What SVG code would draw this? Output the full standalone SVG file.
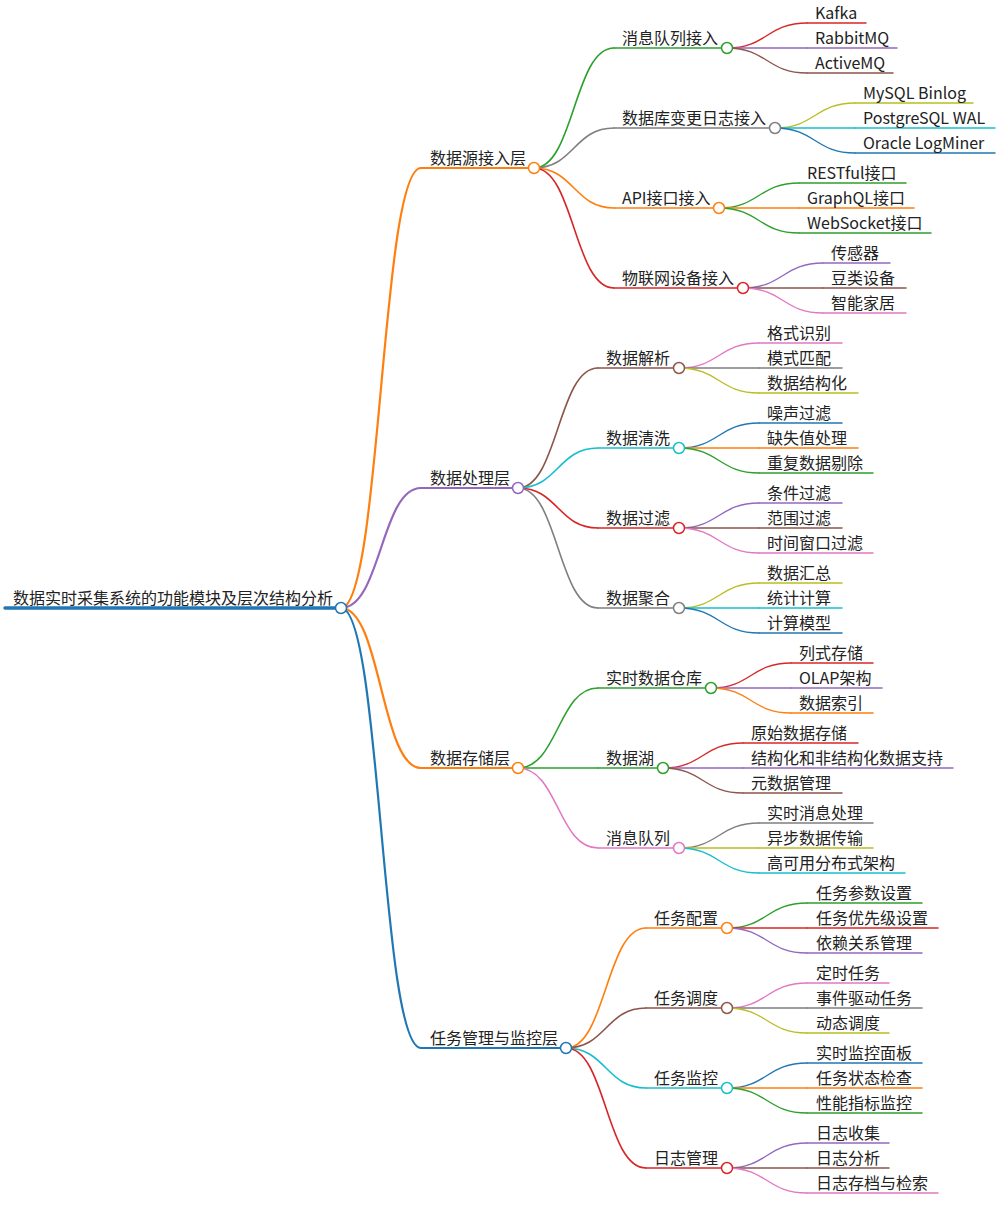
<svg xmlns="http://www.w3.org/2000/svg" width="997" height="1231" viewBox="0 0 997 1231">
<style>
text{font-family:"Noto Sans CJK SC","Noto Sans",sans-serif;font-size:16px;fill:#222}
line,path,circle{fill:none;stroke-linecap:round}
circle{fill:#fff;stroke-width:1.5}
.l0{stroke-width:3.5}.l1{stroke-width:2}.l2{stroke-width:1.5}.l3{stroke-width:1.5}
.k1{stroke-width:2.2}.k2{stroke-width:1.6}.k3{stroke-width:1.4}
.blue{stroke:#1f77b4}.orange{stroke:#ff7f0e}.green{stroke:#2ca02c}.red{stroke:#d62728}.purple{stroke:#9467bd}.brown{stroke:#8c564b}.pink{stroke:#e377c2}.gray{stroke:#7f7f7f}.olive{stroke:#bcbd22}.cyan{stroke:#17becf}
</style>
<rect width="997" height="1231" fill="#fff"/>
<g id="connectors">
<path class="k1 orange" d="M341,608 C381,608 381,168 421,168"/>
<path class="k1 purple" d="M341,608 C381,608 381,488 421,488"/>
<path class="k1 orange" d="M341,608 C381,608 381,768 421,768"/>
<path class="k1 blue" d="M341,608 C381,608 381,1048 421,1048"/>
<path class="k2 green" d="M534,168 C574,168 574,48 614,48"/>
<path class="k2 gray" d="M534,168 C574,168 574,128 614,128"/>
<path class="k2 orange" d="M534,168 C574,168 574,208 614,208"/>
<path class="k2 red" d="M534,168 C574,168 574,288 614,288"/>
<path class="k3 red" d="M727,48 C767,48 767,23 807,23"/>
<path class="k3 purple" d="M727,48 C767,48 767,48 807,48"/>
<path class="k3 brown" d="M727,48 C767,48 767,73 807,73"/>
<path class="k3 olive" d="M775,128 C815,128 815,103 855,103"/>
<path class="k3 cyan" d="M775,128 C815,128 815,128 855,128"/>
<path class="k3 blue" d="M775,128 C815,128 815,153 855,153"/>
<path class="k3 green" d="M719,208 C759,208 759,183 799,183"/>
<path class="k3 orange" d="M719,208 C759,208 759,208 799,208"/>
<path class="k3 green" d="M719,208 C759,208 759,233 799,233"/>
<path class="k3 purple" d="M743,288 C783,288 783,263 823,263"/>
<path class="k3 brown" d="M743,288 C783,288 783,288 823,288"/>
<path class="k3 pink" d="M743,288 C783,288 783,313 823,313"/>
<path class="k2 brown" d="M518,488 C558,488 558,368 598,368"/>
<path class="k2 cyan" d="M518,488 C558,488 558,448 598,448"/>
<path class="k2 red" d="M518,488 C558,488 558,528 598,528"/>
<path class="k2 gray" d="M518,488 C558,488 558,608 598,608"/>
<path class="k3 pink" d="M679,368 C719,368 719,343 759,343"/>
<path class="k3 gray" d="M679,368 C719,368 719,368 759,368"/>
<path class="k3 olive" d="M679,368 C719,368 719,393 759,393"/>
<path class="k3 blue" d="M679,448 C719,448 719,423 759,423"/>
<path class="k3 orange" d="M679,448 C719,448 719,448 759,448"/>
<path class="k3 green" d="M679,448 C719,448 719,473 759,473"/>
<path class="k3 purple" d="M679,528 C719,528 719,503 759,503"/>
<path class="k3 brown" d="M679,528 C719,528 719,528 759,528"/>
<path class="k3 pink" d="M679,528 C719,528 719,553 759,553"/>
<path class="k3 olive" d="M679,608 C719,608 719,583 759,583"/>
<path class="k3 cyan" d="M679,608 C719,608 719,608 759,608"/>
<path class="k3 blue" d="M679,608 C719,608 719,633 759,633"/>
<path class="k2 green" d="M518,768 C558,768 558,688 598,688"/>
<path class="k2 green" d="M518,768 C558,768 558,768 598,768"/>
<path class="k2 pink" d="M518,768 C558,768 558,848 598,848"/>
<path class="k3 red" d="M711,688 C751,688 751,663 791,663"/>
<path class="k3 purple" d="M711,688 C751,688 751,688 791,688"/>
<path class="k3 orange" d="M711,688 C751,688 751,713 791,713"/>
<path class="k3 red" d="M663,768 C703,768 703,743 743,743"/>
<path class="k3 purple" d="M663,768 C703,768 703,768 743,768"/>
<path class="k3 brown" d="M663,768 C703,768 703,793 743,793"/>
<path class="k3 gray" d="M679,848 C719,848 719,823 759,823"/>
<path class="k3 olive" d="M679,848 C719,848 719,848 759,848"/>
<path class="k3 cyan" d="M679,848 C719,848 719,873 759,873"/>
<path class="k2 orange" d="M566,1048 C606,1048 606,928 646,928"/>
<path class="k2 brown" d="M566,1048 C606,1048 606,1008 646,1008"/>
<path class="k2 cyan" d="M566,1048 C606,1048 606,1088 646,1088"/>
<path class="k2 red" d="M566,1048 C606,1048 606,1168 646,1168"/>
<path class="k3 green" d="M727,928 C767,928 767,903 807,903"/>
<path class="k3 red" d="M727,928 C767,928 767,928 807,928"/>
<path class="k3 purple" d="M727,928 C767,928 767,953 807,953"/>
<path class="k3 pink" d="M727,1008 C767,1008 767,983 807,983"/>
<path class="k3 gray" d="M727,1008 C767,1008 767,1008 807,1008"/>
<path class="k3 olive" d="M727,1008 C767,1008 767,1033 807,1033"/>
<path class="k3 blue" d="M727,1088 C767,1088 767,1063 807,1063"/>
<path class="k3 orange" d="M727,1088 C767,1088 767,1088 807,1088"/>
<path class="k3 green" d="M727,1088 C767,1088 767,1113 807,1113"/>
<path class="k3 purple" d="M727,1168 C767,1168 767,1143 807,1143"/>
<path class="k3 brown" d="M727,1168 C767,1168 767,1168 807,1168"/>
<path class="k3 pink" d="M727,1168 C767,1168 767,1193 807,1193"/>
</g>

<g id="root"><line class="l0 blue" x1="5" y1="608" x2="341" y2="608"/><circle class="blue" cx="341" cy="608" r="5.5"/><text x="13" y="604">数据实时采集系统的功能模块及层次结构分析</text></g>

<g id="n-A"><line class="l1 orange" x1="421" y1="168" x2="534" y2="168"/><circle class="orange" cx="534" cy="168" r="5.5"/><text x="430" y="164">数据源接入层</text></g>
<g id="n-A1"><line class="l2 green" x1="614" y1="48" x2="727" y2="48"/><circle class="green" cx="727" cy="48" r="5.5"/><text x="622" y="44">消息队列接入</text></g>
<g id="n-A1a"><line class="l3 red" x1="807" y1="23" x2="866" y2="23"/><text x="815" y="19">Kafka</text></g>
<g id="n-A1b"><line class="l3 purple" x1="807" y1="48" x2="897" y2="48"/><text x="815" y="44">RabbitMQ</text></g>
<g id="n-A1c"><line class="l3 brown" x1="807" y1="73" x2="893" y2="73"/><text x="815" y="69">ActiveMQ</text></g>
<g id="n-A2"><line class="l2 gray" x1="614" y1="128" x2="775" y2="128"/><circle class="gray" cx="775" cy="128" r="5.5"/><text x="622" y="124">数据库变更日志接入</text></g>
<g id="n-A2a"><line class="l3 olive" x1="855" y1="103" x2="973" y2="103"/><text x="863" y="99">MySQL Binlog</text></g>
<g id="n-A2b"><line class="l3 cyan" x1="855" y1="128" x2="995" y2="128"/><text x="863" y="124">PostgreSQL WAL</text></g>
<g id="n-A2c"><line class="l3 blue" x1="855" y1="153" x2="995" y2="153"/><text x="863" y="149">Oracle LogMiner</text></g>
<g id="n-A3"><line class="l2 orange" x1="614" y1="208" x2="719" y2="208"/><circle class="orange" cx="719" cy="208" r="5.5"/><text x="622" y="204">API接口接入</text></g>
<g id="n-A3a"><line class="l3 green" x1="799" y1="183" x2="906" y2="183"/><text x="807" y="179">RESTful接口</text></g>
<g id="n-A3b"><line class="l3 orange" x1="799" y1="208" x2="914" y2="208"/><text x="807" y="204">GraphQL接口</text></g>
<g id="n-A3c"><line class="l3 green" x1="799" y1="233" x2="931" y2="233"/><text x="807" y="229">WebSocket接口</text></g>
<g id="n-A4"><line class="l2 red" x1="614" y1="288" x2="743" y2="288"/><circle class="red" cx="743" cy="288" r="5.5"/><text x="622" y="284">物联网设备接入</text></g>
<g id="n-A4a"><line class="l3 purple" x1="823" y1="263" x2="890" y2="263"/><text x="831" y="259">传感器</text></g>
<g id="n-A4b"><line class="l3 brown" x1="823" y1="288" x2="906" y2="288"/><text x="831" y="284">豆类设备</text></g>
<g id="n-A4c"><line class="l3 pink" x1="823" y1="313" x2="906" y2="313"/><text x="831" y="309">智能家居</text></g>

<g id="n-B"><line class="l1 purple" x1="421" y1="488" x2="518" y2="488"/><circle class="purple" cx="518" cy="488" r="5.5"/><text x="430" y="484">数据处理层</text></g>
<g id="n-B1"><line class="l2 brown" x1="598" y1="368" x2="679" y2="368"/><circle class="brown" cx="679" cy="368" r="5.5"/><text x="606" y="364">数据解析</text></g>
<g id="n-B1a"><line class="l3 pink" x1="759" y1="343" x2="842" y2="343"/><text x="767" y="339">格式识别</text></g>
<g id="n-B1b"><line class="l3 gray" x1="759" y1="368" x2="842" y2="368"/><text x="767" y="364">模式匹配</text></g>
<g id="n-B1c"><line class="l3 olive" x1="759" y1="393" x2="858" y2="393"/><text x="767" y="389">数据结构化</text></g>
<g id="n-B2"><line class="l2 cyan" x1="598" y1="448" x2="679" y2="448"/><circle class="cyan" cx="679" cy="448" r="5.5"/><text x="606" y="444">数据清洗</text></g>
<g id="n-B2a"><line class="l3 blue" x1="759" y1="423" x2="842" y2="423"/><text x="767" y="419">噪声过滤</text></g>
<g id="n-B2b"><line class="l3 orange" x1="759" y1="448" x2="858" y2="448"/><text x="767" y="444">缺失值处理</text></g>
<g id="n-B2c"><line class="l3 green" x1="759" y1="473" x2="873" y2="473"/><text x="767" y="469">重复数据剔除</text></g>
<g id="n-B3"><line class="l2 red" x1="598" y1="528" x2="679" y2="528"/><circle class="red" cx="679" cy="528" r="5.5"/><text x="606" y="524">数据过滤</text></g>
<g id="n-B3a"><line class="l3 purple" x1="759" y1="503" x2="842" y2="503"/><text x="767" y="499">条件过滤</text></g>
<g id="n-B3b"><line class="l3 brown" x1="759" y1="528" x2="842" y2="528"/><text x="767" y="524">范围过滤</text></g>
<g id="n-B3c"><line class="l3 pink" x1="759" y1="553" x2="873" y2="553"/><text x="767" y="549">时间窗口过滤</text></g>
<g id="n-B4"><line class="l2 gray" x1="598" y1="608" x2="679" y2="608"/><circle class="gray" cx="679" cy="608" r="5.5"/><text x="606" y="604">数据聚合</text></g>
<g id="n-B4a"><line class="l3 olive" x1="759" y1="583" x2="842" y2="583"/><text x="767" y="579">数据汇总</text></g>
<g id="n-B4b"><line class="l3 cyan" x1="759" y1="608" x2="842" y2="608"/><text x="767" y="604">统计计算</text></g>
<g id="n-B4c"><line class="l3 blue" x1="759" y1="633" x2="842" y2="633"/><text x="767" y="629">计算模型</text></g>

<g id="n-C"><line class="l1 orange" x1="421" y1="768" x2="518" y2="768"/><circle class="orange" cx="518" cy="768" r="5.5"/><text x="430" y="764">数据存储层</text></g>
<g id="n-C1"><line class="l2 green" x1="598" y1="688" x2="711" y2="688"/><circle class="green" cx="711" cy="688" r="5.5"/><text x="606" y="684">实时数据仓库</text></g>
<g id="n-C1a"><line class="l3 red" x1="791" y1="663" x2="873" y2="663"/><text x="799" y="659">列式存储</text></g>
<g id="n-C1b"><line class="l3 purple" x1="791" y1="688" x2="882" y2="688"/><text x="799" y="684">OLAP架构</text></g>
<g id="n-C1c"><line class="l3 orange" x1="791" y1="713" x2="873" y2="713"/><text x="799" y="709">数据索引</text></g>
<g id="n-C2"><line class="l2 green" x1="598" y1="768" x2="663" y2="768"/><circle class="green" cx="663" cy="768" r="5.5"/><text x="606" y="764">数据湖</text></g>
<g id="n-C2a"><line class="l3 red" x1="743" y1="743" x2="858" y2="743"/><text x="751" y="739">原始数据存储</text></g>
<g id="n-C2b"><line class="l3 purple" x1="743" y1="768" x2="953" y2="768"/><text x="751" y="764">结构化和非结构化数据支持</text></g>
<g id="n-C2c"><line class="l3 brown" x1="743" y1="793" x2="842" y2="793"/><text x="751" y="789">元数据管理</text></g>
<g id="n-C3"><line class="l2 pink" x1="598" y1="848" x2="679" y2="848"/><circle class="pink" cx="679" cy="848" r="5.5"/><text x="606" y="844">消息队列</text></g>
<g id="n-C3a"><line class="l3 gray" x1="759" y1="823" x2="873" y2="823"/><text x="767" y="819">实时消息处理</text></g>
<g id="n-C3b"><line class="l3 olive" x1="759" y1="848" x2="873" y2="848"/><text x="767" y="844">异步数据传输</text></g>
<g id="n-C3c"><line class="l3 cyan" x1="759" y1="873" x2="905" y2="873"/><text x="767" y="869">高可用分布式架构</text></g>

<g id="n-D"><line class="l1 blue" x1="421" y1="1048" x2="566" y2="1048"/><circle class="blue" cx="566" cy="1048" r="5.5"/><text x="430" y="1044">任务管理与监控层</text></g>
<g id="n-D1"><line class="l2 orange" x1="646" y1="928" x2="727" y2="928"/><circle class="orange" cx="727" cy="928" r="5.5"/><text x="654" y="924">任务配置</text></g>
<g id="n-D1a"><line class="l3 green" x1="807" y1="903" x2="922" y2="903"/><text x="816" y="899">任务参数设置</text></g>
<g id="n-D1b"><line class="l3 red" x1="807" y1="928" x2="938" y2="928"/><text x="816" y="924">任务优先级设置</text></g>
<g id="n-D1c"><line class="l3 purple" x1="807" y1="953" x2="922" y2="953"/><text x="816" y="949">依赖关系管理</text></g>
<g id="n-D2"><line class="l2 brown" x1="646" y1="1008" x2="727" y2="1008"/><circle class="brown" cx="727" cy="1008" r="5.5"/><text x="654" y="1004">任务调度</text></g>
<g id="n-D2a"><line class="l3 pink" x1="807" y1="983" x2="889" y2="983"/><text x="816" y="979">定时任务</text></g>
<g id="n-D2b"><line class="l3 gray" x1="807" y1="1008" x2="922" y2="1008"/><text x="816" y="1004">事件驱动任务</text></g>
<g id="n-D2c"><line class="l3 olive" x1="807" y1="1033" x2="889" y2="1033"/><text x="816" y="1029">动态调度</text></g>
<g id="n-D3"><line class="l2 cyan" x1="646" y1="1088" x2="727" y2="1088"/><circle class="cyan" cx="727" cy="1088" r="5.5"/><text x="654" y="1084">任务监控</text></g>
<g id="n-D3a"><line class="l3 blue" x1="807" y1="1063" x2="922" y2="1063"/><text x="816" y="1059">实时监控面板</text></g>
<g id="n-D3b"><line class="l3 orange" x1="807" y1="1088" x2="922" y2="1088"/><text x="816" y="1084">任务状态检查</text></g>
<g id="n-D3c"><line class="l3 green" x1="807" y1="1113" x2="922" y2="1113"/><text x="816" y="1109">性能指标监控</text></g>
<g id="n-D4"><line class="l2 red" x1="646" y1="1168" x2="727" y2="1168"/><circle class="red" cx="727" cy="1168" r="5.5"/><text x="654" y="1164">日志管理</text></g>
<g id="n-D4a"><line class="l3 purple" x1="807" y1="1143" x2="889" y2="1143"/><text x="816" y="1139">日志收集</text></g>
<g id="n-D4b"><line class="l3 brown" x1="807" y1="1168" x2="889" y2="1168"/><text x="816" y="1164">日志分析</text></g>
<g id="n-D4c"><line class="l3 pink" x1="807" y1="1193" x2="938" y2="1193"/><text x="816" y="1189">日志存档与检索</text></g>
</svg>
